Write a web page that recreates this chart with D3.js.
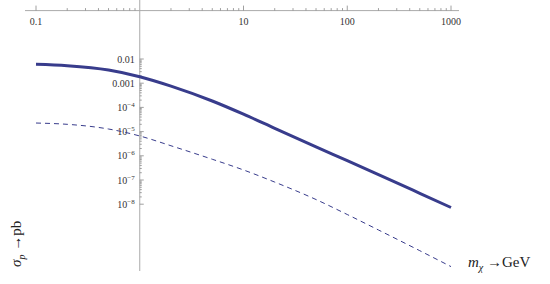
<!DOCTYPE html>
<html>
<head>
<meta charset="utf-8">
<script src="https://cdn.jsdelivr.net/npm/d3@7"></script>
<style>
	body { margin: 0; background: #fff; }
	svg { display: block; font-family: 'Liberation Serif', 'DejaVu Serif', serif; }
	.tick-label { font-size: 10px; fill: #333; }
	.axis-title { font-size: 15px; fill: #222; }
</style>
</head>
<body>
<div id="chart"></div>
<script>
var masses = [0.1, 0.2, 0.5, 1, 2, 5, 10, 20, 50, 100, 200, 500, 1000];
// sigma_p in pb, solid curve
var sigmaSolid = [6.04e-3, 5.28e-3, 3.51e-3, 1.86e-3, 7.6e-4, 1.84e-4, 5.24e-5, 1.37e-5, 2.35e-6, 6.3e-7, 1.67e-7, 2.82e-8, 7.3e-9];
// sigma_p in pb, dashed curve
var sigmaDashed = [2.26e-5, 2.0e-5, 1.28e-5, 6.6e-6, 2.6e-6, 7.2e-7, 2.6e-7, 8.2e-8, 1.56e-8, 3.75e-9, 8.6e-10, 1.2e-10, 2.64e-11];
var xTickValues = [0.1, 10, 100, 1000];
var xTickLabels = ['0.1', '10', '100', '1000'];
var yTickValues = [1e-2, 1e-3, 1e-4, 1e-5, 1e-6, 1e-7, 1e-8];
var yTickLabels = ['0.01', '0.001', '10', '10', '10', '10', '10'];
var yTickExps = ['', '', '\u22124', '\u22125', '\u22126', '\u22127', '\u22128'];

drawPlot();

function drawPlot() {
	var width = 550, height = 284;
	var axisColor = '#aaa';
	var lineColor = '#383c8c';

	var svg = d3.select('#chart')
		.append('svg')
		.attr('width', width)
		.attr('height', height);

	var xScale = d3.scaleLog()
		.domain([0.1, 1000])
		.range([36, 451]);

	var yScale = d3.scaleLog()
		.domain([1e-2, 1e-8])
		.range([59, 204.2]);

	var axisY = yScale(1);
	var axisX = xScale(1);

	// horizontal axis (crosses at sigma = 1)
	svg.append('line')
		.attr('x1', 25).attr('x2', 459)
		.attr('y1', axisY).attr('y2', axisY)
		.attr('stroke', axisColor).attr('stroke-width', 1);

	// vertical axis (crosses at m = 1)
	svg.append('line')
		.attr('x1', axisX).attr('x2', axisX)
		.attr('y1', 0).attr('y2', 271)
		.attr('stroke', axisColor).attr('stroke-width', 1);

	// x ticks, major and minor
	var xMinor = [];
	for (var e = -1; e < 3; e++) {
		for (var k = 2; k < 10; k++) xMinor.push(k * Math.pow(10, e));
	}

	svg.selectAll('.x-minor')
		.data(xMinor)
		.enter()
		.append('line')
		.attr('class', 'x-minor')
		.attr('x1', function(d) { return xScale(d); })
		.attr('x2', function(d) { return xScale(d); })
		.attr('y1', axisY)
		.attr('y2', axisY - 2.5)
		.attr('stroke', '#888').attr('stroke-width', 0.8);

	svg.selectAll('.x-major')
		.data(xTickValues)
		.enter()
		.append('line')
		.attr('class', 'x-major')
		.attr('x1', function(d) { return xScale(d); })
		.attr('x2', function(d) { return xScale(d); })
		.attr('y1', axisY)
		.attr('y2', axisY - 5)
		.attr('stroke', '#888').attr('stroke-width', 0.8);

	svg.selectAll('.x-label')
		.data(xTickValues)
		.enter()
		.append('text')
		.attr('class', 'tick-label x-label')
		.attr('x', function(d) { return xScale(d); })
		.attr('y', axisY + 14)
		.attr('text-anchor', 'middle')
		.text(function(d, i) { return xTickLabels[i]; });

	// y ticks, major and minor
	var yMinor = [];
	for (var p = -8; p < -2; p++) {
		for (var j = 2; j < 10; j++) yMinor.push(j * Math.pow(10, p));
	}

	svg.selectAll('.y-minor')
		.data(yMinor)
		.enter()
		.append('line')
		.attr('class', 'y-minor')
		.attr('x1', axisX)
		.attr('x2', axisX + 2)
		.attr('y1', function(d) { return yScale(d); })
		.attr('y2', function(d) { return yScale(d); })
		.attr('stroke', '#888').attr('stroke-width', 0.8);

	svg.selectAll('.y-major')
		.data(yTickValues)
		.enter()
		.append('line')
		.attr('class', 'y-major')
		.attr('x1', axisX)
		.attr('x2', axisX + 4)
		.attr('y1', function(d) { return yScale(d); })
		.attr('y2', function(d) { return yScale(d); })
		.attr('stroke', '#888').attr('stroke-width', 0.8);

	var yLabel = svg.selectAll('.y-label')
		.data(yTickValues)
		.enter()
		.append('text')
		.attr('class', 'tick-label y-label')
		.attr('x', axisX - 5)
		.attr('y', function(d) { return yScale(d) + 3.5; })
		.attr('text-anchor', 'end');

	yLabel.append('tspan')
		.text(function(d, i) { return yTickLabels[i]; });

	yLabel.append('tspan')
		.attr('dy', -4)
		.style('font-size', '7px')
		.text(function(d, i) { return yTickExps[i]; });

	// curves
	var line = d3.line()
		.curve(d3.curveMonotoneX)
		.x(function(d) { return xScale(d[0]); })
		.y(function(d) { return yScale(d[1]); });

	svg.append('path')
		.datum(d3.zip(masses, sigmaDashed))
		.attr('fill', 'none')
		.attr('stroke', lineColor)
		.attr('stroke-width', 1)
		.attr('stroke-dasharray', '5,4')
		.attr('d', line);

	svg.append('path')
		.datum(d3.zip(masses, sigmaSolid))
		.attr('fill', 'none')
		.attr('stroke', lineColor)
		.attr('stroke-width', 3)
		.attr('d', line);

	// axis titles
	var xt = svg.append('text')
		.attr('class', 'axis-title')
		.attr('x', 468)
		.attr('y', 267);
	xt.append('tspan').style('font-style', 'italic').text('m');
	xt.append('tspan').attr('dy', 4).style('font-size', '10px').style('font-style', 'italic').text('\u03c7');
	xt.append('tspan').attr('dy', -4).text(' \u2192GeV');

	var yt = svg.append('text')
		.attr('class', 'axis-title')
		.attr('transform', 'translate(21,267) rotate(-90)');
	yt.append('tspan').style('font-style', 'italic').text('\u03c3');
	yt.append('tspan').attr('dy', 4).style('font-size', '10px').style('font-style', 'italic').text('p');
	yt.append('tspan').attr('dy', -4).text(' \u2192pb');
}
</script>
</body>
</html>
